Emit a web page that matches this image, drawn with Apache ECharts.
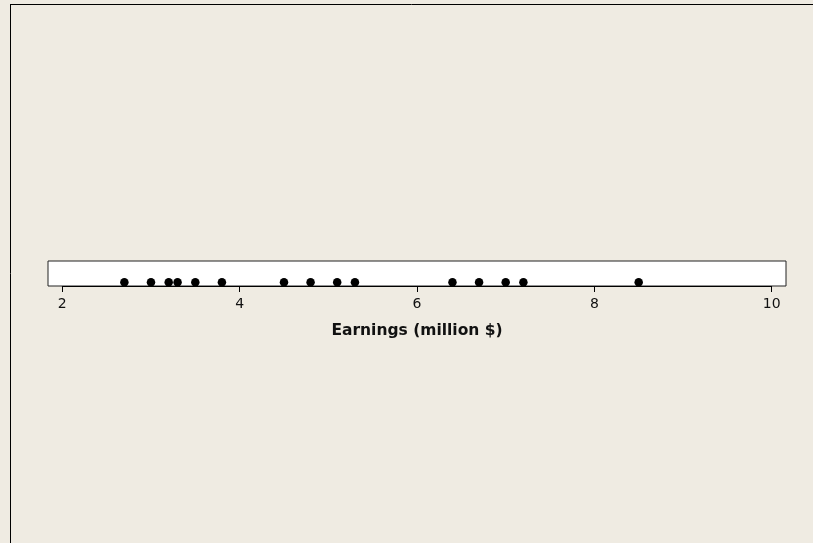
<!DOCTYPE html>
<html><head><meta charset="utf-8">
<script src="https://cdn.jsdelivr.net/npm/echarts@6/dist/echarts.min.js"></script>
<style>html,body{margin:0;padding:0;background:#EFEBE2}#c{width:813px;height:543px}</style>
</head><body><div id="c"></div>
<script>
const earnings = [2.7, 3.0, 3.2, 3.3, 3.5, 3.8, 4.5, 4.8, 5.1, 5.3, 6.4, 6.7, 7.0, 7.2, 8.5];
const tickMin = 2, tickMax = 10, tickStep = 2;
const axisTitle = 'Earnings (million $)';
const chart = echarts.init(document.getElementById('c'), null, {renderer: 'canvas'});
chart.setOption({
  backgroundColor: '#EFEBE2',
  animation: false,
  grid: [
    {left: 48, right: 27, top: 261, height: 25, show: true, backgroundColor: '#ffffff', borderColor: '#222222', borderWidth: 1},
    {left: 62.3, right: 41.3, top: 261, height: 25, show: false}
  ],
  xAxis: [
    {gridIndex: 0, type: 'value', min: 0, max: 1, show: false},
    {
      gridIndex: 1, type: 'value', min: tickMin, max: tickMax, interval: tickStep,
      name: axisTitle, nameLocation: 'middle', nameGap: 37,
      nameTextStyle: {fontFamily: 'DejaVu Sans', fontSize: 15.5, fontWeight: 'bold', color: '#111'},
      axisLine: {show: true, lineStyle: {color: '#000', width: 1}},
      axisTick: {show: true, inside: false, length: 6, lineStyle: {color: '#000', width: 1}},
      minorTick: {show: false},
      axisLabel: {show: true, fontFamily: 'DejaVu Sans', fontSize: 14, color: '#111', margin: 11},
      splitLine: {show: false}
    }
  ],
  yAxis: [
    {gridIndex: 0, type: 'value', min: 0, max: 1, show: false},
    {gridIndex: 1, type: 'value', min: 0, max: 1, show: false}
  ],
  graphic: [
    {type: 'line', shape: {x1: 10.5, y1: 4, x2: 10.5, y2: 543}, style: {stroke: '#000', lineWidth: 1}},
    {type: 'line', shape: {x1: 10, y1: 4.5, x2: 813, y2: 4.5}, style: {stroke: '#000', lineWidth: 1}}
  ],
  series: [{
    type: 'scatter', xAxisIndex: 1, yAxisIndex: 1, symbol: 'circle', symbolSize: 8.5,
    itemStyle: {color: '#000', opacity: 1},
    data: earnings.map(v => [v, 0.15])
  }]
});
</script></body></html>
